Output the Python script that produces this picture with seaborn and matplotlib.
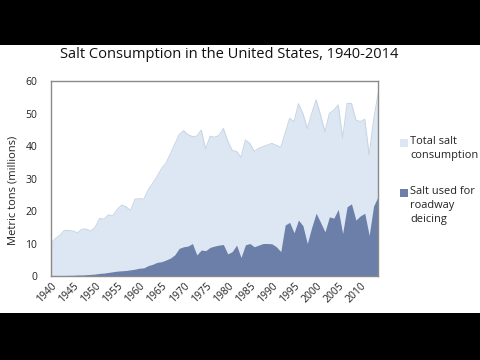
import pandas as pd
import numpy as np
import matplotlib
matplotlib.use("Agg")
import matplotlib.pyplot as plt
import seaborn as sns
from matplotlib.patches import Rectangle

# salt consumption, million metric tons
years = list(range(1940, 2015))
total_salt = [10, 11.5, 12.5, 14, 14, 13.8, 13.3, 14.4, 14.4, 13.8,
              15, 17.7, 17.5, 18.8, 18.5, 20.5, 21.8, 21.3, 20.1, 23.6,
              23.8, 23.6, 26.5, 28.5, 30.6, 33, 34.7, 37.5, 40.5, 43.5,
              44.7, 43.5, 42.9, 43, 44.9, 39, 43, 42.7, 43.2, 45.4,
              41.5, 38.6, 38.3, 36.5, 41.8, 40.8, 38.3, 39.3, 39.8, 40.3,
              40.8, 40.2, 39.6, 44, 48.5, 47.5, 53, 50, 45.4, 50,
              54.2, 49.5, 44.4, 50, 51, 52.6, 42.4, 53.1, 53.1, 48,
              47.5, 48.2, 37.2, 48, 56]
deicing_salt = [0.1, 0.1, 0.1, 0.1, 0.2, 0.2, 0.3, 0.3, 0.4, 0.5,
                0.6, 0.8, 0.9, 1.1, 1.3, 1.5, 1.6, 1.7, 1.9, 2.1,
                2.4, 2.5, 3.2, 3.6, 4.2, 4.4, 4.9, 5.5, 6.5, 8.5,
                9.0, 9.2, 10.0, 6.5, 8, 7.8, 8.8, 9.2, 9.5, 9.7,
                6.8, 7.5, 9.5, 5.7, 9.6, 10, 9.0, 9.5, 10, 10,
                9.9, 9, 7.5, 15.7, 16.5, 13.3, 17.2, 15.5, 10, 15,
                19.3, 16.5, 13.6, 18.2, 17.8, 20.5, 13.1, 21.3, 22.2, 17.2,
                18.5, 19.3, 12.5, 21.5, 24.4]
legend_labels = ["Total salt\nconsumption", "Salt used for\nroadway\ndeicing"]

df = pd.DataFrame({"year": years, "total": total_salt, "deicing": deicing_salt})

light = "#dce7f3"
light_edge = "#c9d6e5"
dark = "#6b7fa8"

sns.set_style("white")
plt.rcParams["font.family"] = ["Open Sans", "DejaVu Sans"]

fig = plt.figure(figsize=(4.8, 3.6), dpi=100)
fig.patch.set_facecolor("black")
# white band between the letterbox bars
fig.patches.append(Rectangle((0, 47 / 360), 1, 268 / 360, transform=fig.transFigure,
                             facecolor="white", edgecolor="none", zorder=-1))

ax = fig.add_axes([51 / 480, 84 / 360, 327 / 480, 195 / 360])
ax.fill_between(df["year"], 0, df["total"], color=light, linewidth=0)
sns.lineplot(data=df, x="year", y="total", ax=ax, color=light_edge, linewidth=0.8)
ax.fill_between(df["year"], 0, df["deicing"], color=dark, linewidth=0)

ax.set_xlim(1940, 2014)
ax.set_ylim(0, 60)
ax.set_yticks(range(0, 61, 10))
ax.set_xticks(range(1940, 2011, 5))
ax.set_xticklabels([str(y) for y in range(1940, 2011, 5)], rotation=45,
                   ha="right", va="top", rotation_mode="anchor")
ax.tick_params(axis="both", length=0, labelsize=7.5, colors="#222222")
ax.tick_params(axis="y", pad=10)
ax.tick_params(axis="x", pad=3)
ax.set_xlabel("")
ax.set_ylabel("Metric tons (millions)", fontsize=8, color="#222222")
ax.yaxis.set_label_coords(-0.098, 0.44)
for s in ax.spines.values():
    s.set_color("#8a8a8a")
    s.set_linewidth(1)

fig.text(229 / 480, 1 - 55 / 360, "Salt Consumption in the United States, 1940-2014",
         ha="center", va="center", fontsize=10.5, color="#111111")

# legend, drawn by hand so the swatch sits by the first line
for (label, col, top) in [(legend_labels[0], light, 138), (legend_labels[1], dark, 188)]:
    fig.patches.append(Rectangle((400 / 480, 1 - (top + 9) / 360), 8 / 480, 8 / 360,
                                 transform=fig.transFigure, facecolor=col,
                                 edgecolor="none"))
    fig.text(410 / 480, 1 - (top - 2) / 360, label, ha="left", va="top",
             fontsize=7.9, color="#222222", linespacing=1.35)

fig.savefig("out.png", dpi=100, facecolor=fig.get_facecolor())
